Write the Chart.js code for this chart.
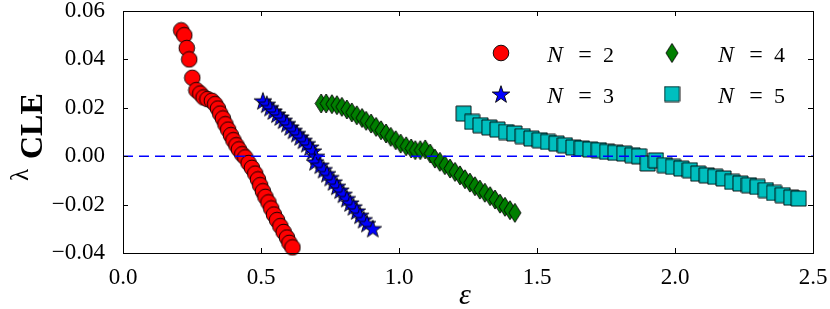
<!DOCTYPE html>
<html>
<head>
<meta charset="utf-8">
<script src="https://cdn.jsdelivr.net/npm/chart.js@4/dist/chart.umd.min.js"></script>
<style>
  body { margin: 0; background: #fff; }
</style>
</head>
<body>
<canvas id="chart" width="830" height="309"></canvas>
<script>
// values (epsilon, lambda_CLE)
const n2Eps = [0.211, 0.222, 0.231, 0.240, 0.251, 0.266, 0.280, 0.292, 0.306, 0.322, 0.334, 0.344, 0.352, 0.362, 0.371, 0.381, 0.391, 0.400, 0.411, 0.420, 0.432, 0.443, 0.455, 0.467, 0.479, 0.489, 0.497, 0.507, 0.516, 0.527, 0.537, 0.547, 0.558, 0.570, 0.582, 0.594, 0.603, 0.614];
const n2Lam = [0.0520, 0.0500, 0.0447, 0.0400, 0.0324, 0.0273, 0.0259, 0.0243, 0.0236, 0.0229, 0.0215, 0.0197, 0.0176, 0.0156, 0.0132, 0.0110, 0.0087, 0.0066, 0.0045, 0.0028, 0.0008, -0.0005, -0.0028, -0.0048, -0.0072, -0.0096, -0.0120, -0.0145, -0.0168, -0.0191, -0.0216, -0.0241, -0.0264, -0.0289, -0.0313, -0.0336, -0.0358, -0.0377];

const n3Eps = [0.507, 0.521, 0.533, 0.545, 0.558, 0.570, 0.582, 0.594, 0.606, 0.618, 0.630, 0.642, 0.654, 0.666, 0.678, 0.688, 0.699, 0.696, 0.715, 0.727, 0.739, 0.751, 0.763, 0.775, 0.787, 0.799, 0.811, 0.823, 0.835, 0.847, 0.859, 0.872, 0.884, 0.905];
const n3Lam = [0.0229, 0.0215, 0.0201, 0.0187, 0.0174, 0.0162, 0.0149, 0.0135, 0.0121, 0.0107, 0.0094, 0.0080, 0.0066, 0.0052, 0.0038, 0.0022, 0.0000, -0.0023, -0.0037, -0.0055, -0.0072, -0.0088, -0.0106, -0.0124, -0.0140, -0.0157, -0.0175, -0.0193, -0.0209, -0.0226, -0.0244, -0.0262, -0.0278, -0.0299];

const n4Eps = [0.718, 0.736, 0.757, 0.775, 0.793, 0.811, 0.829, 0.847, 0.866, 0.881, 0.899, 0.917, 0.935, 0.953, 0.970, 0.988, 1.006, 1.026, 1.044, 1.059, 1.077, 1.095, 1.113, 1.130, 1.148, 1.166, 1.185, 1.203, 1.221, 1.239, 1.257, 1.275, 1.293, 1.311, 1.330, 1.348, 1.366, 1.384, 1.402, 1.420];
const n4Lam = [0.0218, 0.0218, 0.0215, 0.0211, 0.0204, 0.0193, 0.0181, 0.0169, 0.0158, 0.0146, 0.0135, 0.0121, 0.0107, 0.0094, 0.0080, 0.0066, 0.0052, 0.0041, 0.0032, 0.0025, 0.0025, 0.0028, 0.0011, -0.0010, -0.0023, -0.0037, -0.0051, -0.0065, -0.0079, -0.0095, -0.0109, -0.0124, -0.0138, -0.0151, -0.0165, -0.0179, -0.0196, -0.0209, -0.0223, -0.0234];

const n5Eps = [1.234, 1.265, 1.295, 1.327, 1.357, 1.388, 1.418, 1.448, 1.480, 1.510, 1.540, 1.571, 1.601, 1.632, 1.663, 1.693, 1.724, 1.754, 1.784, 1.816, 1.846, 1.870, 1.901, 1.931, 1.963, 1.993, 2.023, 2.054, 2.084, 2.115, 2.146, 2.176, 2.207, 2.237, 2.268, 2.299, 2.329, 2.359, 2.390, 2.421, 2.448];
const n5Lam = [0.0176, 0.0142, 0.0128, 0.0119, 0.0110, 0.0100, 0.0094, 0.0083, 0.0073, 0.0066, 0.0059, 0.0052, 0.0045, 0.0036, 0.0032, 0.0028, 0.0025, 0.0018, 0.0014, 0.0011, 0.0004, 0.0000, -0.0030, -0.0017, -0.0037, -0.0044, -0.0051, -0.0058, -0.0072, -0.0079, -0.0085, -0.0092, -0.0106, -0.0113, -0.0120, -0.0127, -0.0140, -0.0152, -0.0161, -0.0171, -0.0175];

const seriesNames = ['N = 2', 'N = 3', 'N = 4', 'N = 5'];
const xTicks = [0, 0.5, 1.0, 1.5, 2.0, 2.5];
const yTicks = [-0.04, -0.02, 0.00, 0.02, 0.04, 0.06];
const zeroLine = [0, 0];

const serif = '"Liberation Serif", "DejaVu Serif", serif';
Chart.defaults.font.family = serif;

const toPoints = (xs, ys) => xs.map((x, i) => ({ x: x, y: ys[i] }));

// matplotlib-like marker glyphs
const makeMarker = (w, h, draw) => {
	const c = document.createElement('canvas');
	c.width = w;
	c.height = h;
	const ctx = c.getContext('2d');
	ctx.lineWidth = 0.9;
	ctx.strokeStyle = '#000';
	draw(ctx, w / 2, h / 2);
	return c;
};

const circle = makeMarker(18, 18, (ctx, cx, cy) => {
	ctx.beginPath();
	ctx.arc(cx, cy, 7.8, 0, Math.PI * 2);
	ctx.fillStyle = '#ff0000';
	ctx.fill();
	ctx.stroke();
});

const star = makeMarker(20, 20, (ctx, cx, cy) => {
	ctx.beginPath();
	for (let i = 0; i < 10; i++) {
		const r = i % 2 === 0 ? 9.2 : 3.6;
		const a = -Math.PI / 2 + i * Math.PI / 5;
		const px = cx + r * Math.cos(a);
		const py = cy + 0.9 + r * Math.sin(a);
		if (i === 0) ctx.moveTo(px, py); else ctx.lineTo(px, py);
	}
	ctx.closePath();
	ctx.fillStyle = '#0000ff';
	ctx.fill();
	ctx.stroke();
});

const diamond = makeMarker(14, 21, (ctx, cx, cy) => {
	ctx.beginPath();
	ctx.moveTo(cx, 1);
	ctx.lineTo(13, cy);
	ctx.lineTo(cx, 20);
	ctx.lineTo(1, cy);
	ctx.closePath();
	ctx.fillStyle = '#007f00';
	ctx.fill();
	ctx.stroke();
});

const square = makeMarker(17, 17, (ctx) => {
	ctx.beginPath();
	ctx.rect(1, 1, 15, 15);
	ctx.fillStyle = '#00bfbf';
	ctx.fill();
	ctx.stroke();
});

const markers = [circle, star, diamond, square];

const frameAndTicks = {
	id: 'frameAndTicks',
	afterDraw(chart) {
		const { ctx, chartArea: a, scales } = chart;
		ctx.save();
		ctx.strokeStyle = '#000';
		ctx.lineWidth = 1;
		ctx.beginPath();
		for (const t of xTicks) {
			const px = Math.round(scales.x.getPixelForValue(t)) + 0.5;
			ctx.moveTo(px, a.bottom); ctx.lineTo(px, a.bottom - 5);
			ctx.moveTo(px, a.top); ctx.lineTo(px, a.top + 5);
		}
		for (const t of yTicks) {
			const py = Math.round(scales.y.getPixelForValue(t)) + 0.5;
			ctx.moveTo(a.left, py); ctx.lineTo(a.left + 5, py);
			ctx.moveTo(a.right, py); ctx.lineTo(a.right - 5, py);
		}
		ctx.stroke();
		ctx.strokeRect(Math.round(a.left) + 0.5, Math.round(a.top) + 0.5, Math.round(a.width), Math.round(a.height));

		// legend
		const cols = [501, 672];
		const rows = [53, 94];
		ctx.fillStyle = '#000';
		ctx.textBaseline = 'alphabetic';
		for (let i = 0; i < seriesNames.length; i++) {
			const mx = cols[Math.floor(i / 2)];
			const my = rows[i % 2];
			const m = markers[i];
			ctx.drawImage(m, mx - m.width / 2, my - m.height / 2);
			const parts = seriesNames[i].split(' ');
			const tx = mx + 46;
			const ty = my + 9;
			ctx.font = 'italic 24px ' + serif;
			ctx.textAlign = 'left';
			ctx.fillText(parts[0], tx, ty);
			ctx.font = '24px ' + serif;
			ctx.textAlign = 'center';
			ctx.fillText(parts[1], tx + 38, ty);
			ctx.font = '22px ' + serif;
			ctx.textAlign = 'left';
			ctx.fillText(parts[2], tx + 56, ty);
		}

		// axis labels
		ctx.font = 'italic 30px ' + serif;
		ctx.textAlign = 'center';
		ctx.fillText('ε', 465, 304);

		ctx.save();
		ctx.translate(28, 181);
		ctx.rotate(-Math.PI / 2);
		ctx.textAlign = 'left';
		ctx.font = '25px ' + serif;
		ctx.fillText('λ', 0, 0);
		ctx.font = 'bold 32px ' + serif;
		ctx.fillText('CLE', 22, 14);
		ctx.restore();
		ctx.restore();
	}
};

const datasets = [
	{ label: 'zero', data: toPoints([0, 2.5], zeroLine), showLine: true, borderColor: '#0000ff', borderWidth: 1.5, borderDash: [10, 6], pointRadius: 0, order: -1 },
	{ label: seriesNames[0], data: toPoints(n2Eps, n2Lam), pointStyle: circle, order: 1 },
	{ label: seriesNames[1], data: toPoints(n3Eps, n3Lam), pointStyle: star, order: 1 },
	{ label: seriesNames[2], data: toPoints(n4Eps, n4Lam), pointStyle: diamond, order: 1 },
	{ label: seriesNames[3], data: toPoints(n5Eps, n5Lam), pointStyle: square, order: 1 }
];

const myChart = new Chart(document.getElementById('chart').getContext('2d'), {
	type: 'scatter',
	data: { datasets: datasets },
	options: {
		responsive: false,
		animation: false,
		events: [],
		clip: false,
		layout: { padding: { top: 11, right: 17, left: 0, bottom: 0 }, autoPadding: false },
		plugins: { legend: { display: false }, tooltip: { enabled: false } },
		scales: {
			x: {
				type: 'linear',
				min: 0,
				max: 2.5,
				afterFit: (s) => {
					s.height = 56;
					s.paddingLeft = 0; s.paddingRight = 0; s.paddingTop = 0; s.paddingBottom = 0;
				},
				afterBuildTicks: (s) => { s.ticks = xTicks.map(v => ({ value: v })); },
				grid: { display: false },
				border: { display: false },
				ticks: {
					color: '#000',
					padding: 3,
					font: { family: serif, size: 23 },
					callback: (v) => v.toFixed(1)
				}
			},
			y: {
				type: 'linear',
				min: -0.04,
				max: 0.06,
				afterFit: (s) => {
					s.width = 123;
					s.paddingLeft = 0; s.paddingRight = 0; s.paddingTop = 0; s.paddingBottom = 0;
				},
				afterBuildTicks: (s) => { s.ticks = yTicks.map(v => ({ value: v })); },
				grid: { display: false },
				border: { display: false },
				ticks: {
					color: '#000',
					padding: 10,
					font: { family: serif, size: 23 },
					callback: (v) => (v < -1e-9 ? '\u2212' : '') + Math.abs(v).toFixed(2)
				}
			}
		}
	},
	plugins: [frameAndTicks]
});
</script>
</body>
</html>
